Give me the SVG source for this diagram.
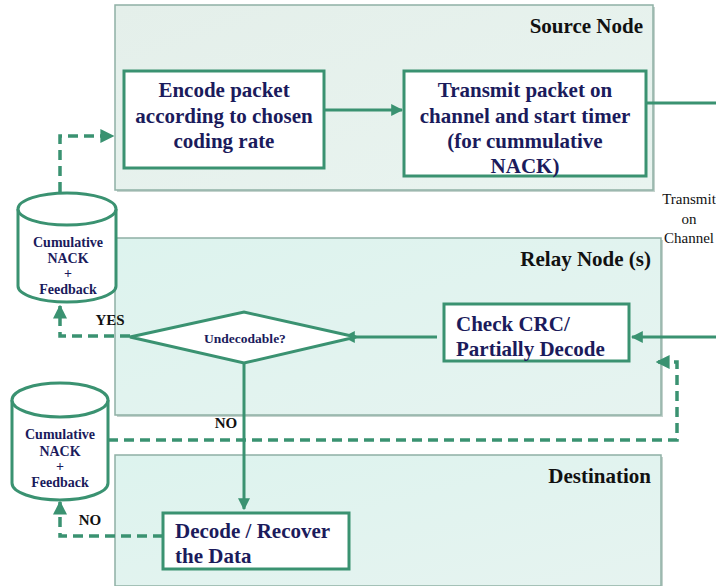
<svg xmlns="http://www.w3.org/2000/svg" width="716" height="586" viewBox="0 0 716 586">
<defs>
<linearGradient id="gSrc" x1="0" y1="0" x2="1" y2="1"><stop offset="0" stop-color="#e4efea"/><stop offset="1" stop-color="#e9f4f0"/></linearGradient>
<linearGradient id="gRel" x1="0" y1="0" x2="1" y2="1"><stop offset="0" stop-color="#ddf3ee"/><stop offset="1" stop-color="#e6f3f0"/></linearGradient>
<marker id="ah" viewBox="0 0 10 10" refX="9" refY="5" markerWidth="4" markerHeight="4" orient="auto" markerUnits="strokeWidth"><path d="M0,0 L10,5 L0,10 z" fill="#3a9271"/></marker>
</defs>
<style>
.panel{stroke:#8fb0a5;stroke-width:1.5}
.shadow{fill:#c4d3cd}
.box{fill:#ffffff;stroke:#3a9271;stroke-width:3}
.cyl{fill:#ffffff;stroke:#3a9271;stroke-width:3}
.ln{fill:none;stroke:#3a9271;stroke-width:3}
.dash{fill:none;stroke:#3a9271;stroke-width:3.5;stroke-dasharray:10 6}
.bt{font-family:"Liberation Serif","Times New Roman",serif;font-weight:bold;font-size:21px;fill:#1b1b5c}
.pl{font-family:"Liberation Serif","Times New Roman",serif;font-weight:bold;font-size:21px;fill:#111111;text-anchor:end}
.ct{font-family:"Liberation Serif","Times New Roman",serif;font-weight:bold;font-size:14px;fill:#1b1b5c;text-anchor:middle}
.lb{font-family:"Liberation Serif","Times New Roman",serif;font-weight:bold;font-size:15px;fill:#111111;text-anchor:middle}
.tc{font-family:"Liberation Serif","Times New Roman",serif;font-size:15px;fill:#111111;text-anchor:middle}
</style>

<g id="source-panel">
<rect x="117" y="7" width="538" height="185" class="shadow"/>
<rect x="115" y="5" width="538" height="185" fill="url(#gSrc)" class="panel"/>
<text x="643" y="33" class="pl">Source Node</text>
</g>
<g id="relay-panel">
<rect x="117" y="240" width="546" height="177" class="shadow"/>
<rect x="115" y="238" width="546" height="177" fill="url(#gRel)" class="panel"/>
<text x="651" y="266" class="pl">Relay Node (s)</text>
</g>
<g id="destination-panel">
<rect x="117" y="457" width="546" height="131" class="shadow"/>
<rect x="115" y="455" width="546" height="131" fill="url(#gRel)" class="panel"/>
<text x="651" y="483" class="pl">Destination</text>
</g>

<g id="connectors">
<line x1="324" y1="110" x2="402" y2="110" class="ln" marker-end="url(#ah)"/>
<line x1="646" y1="103" x2="716" y2="103" class="ln"/>
<line x1="716" y1="337" x2="632" y2="337" class="ln" marker-end="url(#ah)"/>
<line x1="437" y1="337" x2="344" y2="337" class="ln" marker-end="url(#ah)"/>
<line x1="244" y1="363" x2="244" y2="509" class="ln" marker-end="url(#ah)"/>
<polyline points="60,192 60,136 113,136" class="dash" marker-end="url(#ah)"/>
<polyline points="130,336 60,336 60,306" class="dash" marker-end="url(#ah)"/>
<polyline points="108,440 677,440 677,362 657,362" class="dash" marker-end="url(#ah)"/>
<polyline points="163,536 60,536 60,502" class="dash" marker-end="url(#ah)"/>
</g>

<g id="encode">
<rect x="124" y="71" width="200" height="97" class="box"/>
<text class="bt" text-anchor="middle"><tspan x="224" y="97">Encode packet</tspan><tspan x="224" y="123">according to chosen</tspan><tspan x="224" y="148">coding rate</tspan></text>
</g>
<g id="transmit">
<rect x="404" y="71" width="242" height="105" class="box"/>
<text class="bt" text-anchor="middle"><tspan x="525" y="97">Transmit packet on</tspan><tspan x="525" y="123">channel and start timer</tspan><tspan x="525" y="148">(for cummulative</tspan><tspan x="525" y="173">NACK)</tspan></text>
</g>
<g id="transmit-label">
<text class="tc"><tspan x="689" y="204">Transmit</tspan><tspan x="689" y="224">on</tspan><tspan x="689" y="243">Channel</tspan></text>
</g>
<g id="check-crc">
<rect x="444" y="304" width="185" height="57" class="box"/>
<text class="bt"><tspan x="456" y="331">Check CRC/</tspan><tspan x="456" y="356">Partially Decode</tspan></text>
</g>
<g id="undecodable">
<polygon points="130,337 244,312 356,337 244,363" class="box"/>
<text x="245" y="343" class="ct" style="font-size:13.5px">Undecodable?</text>
</g>
<g id="decode">
<rect x="163" y="513" width="186" height="56" class="box"/>
<text class="bt"><tspan x="175" y="538">Decode / Recover</tspan><tspan x="175" y="563">the Data</tspan></text>
</g>
<g id="feedback-1">
<path d="M18,209 L18,286 A49,16 0 0 0 116,286 L116,209" class="cyl"/>
<ellipse cx="67" cy="209" rx="49" ry="16" class="cyl"/>
<text class="ct"><tspan x="68" y="247">Cumulative</tspan><tspan x="68" y="263">NACK</tspan><tspan x="68" y="278">+</tspan><tspan x="68" y="294">Feedback</tspan></text>
</g>
<g id="feedback-2">
<path d="M12,400 L12,483 A48,17 0 0 0 108,483 L108,400" class="cyl"/>
<ellipse cx="60" cy="400" rx="48" ry="17" class="cyl"/>
<text class="ct"><tspan x="60" y="439">Cumulative</tspan><tspan x="60" y="456">NACK</tspan><tspan x="60" y="471">+</tspan><tspan x="60" y="487">Feedback</tspan></text>
</g>
<g id="labels">
<text x="110" y="325" class="lb">YES</text>
<text x="226" y="428" class="lb">NO</text>
<text x="90" y="525" class="lb">NO</text>
</g>
</svg>
